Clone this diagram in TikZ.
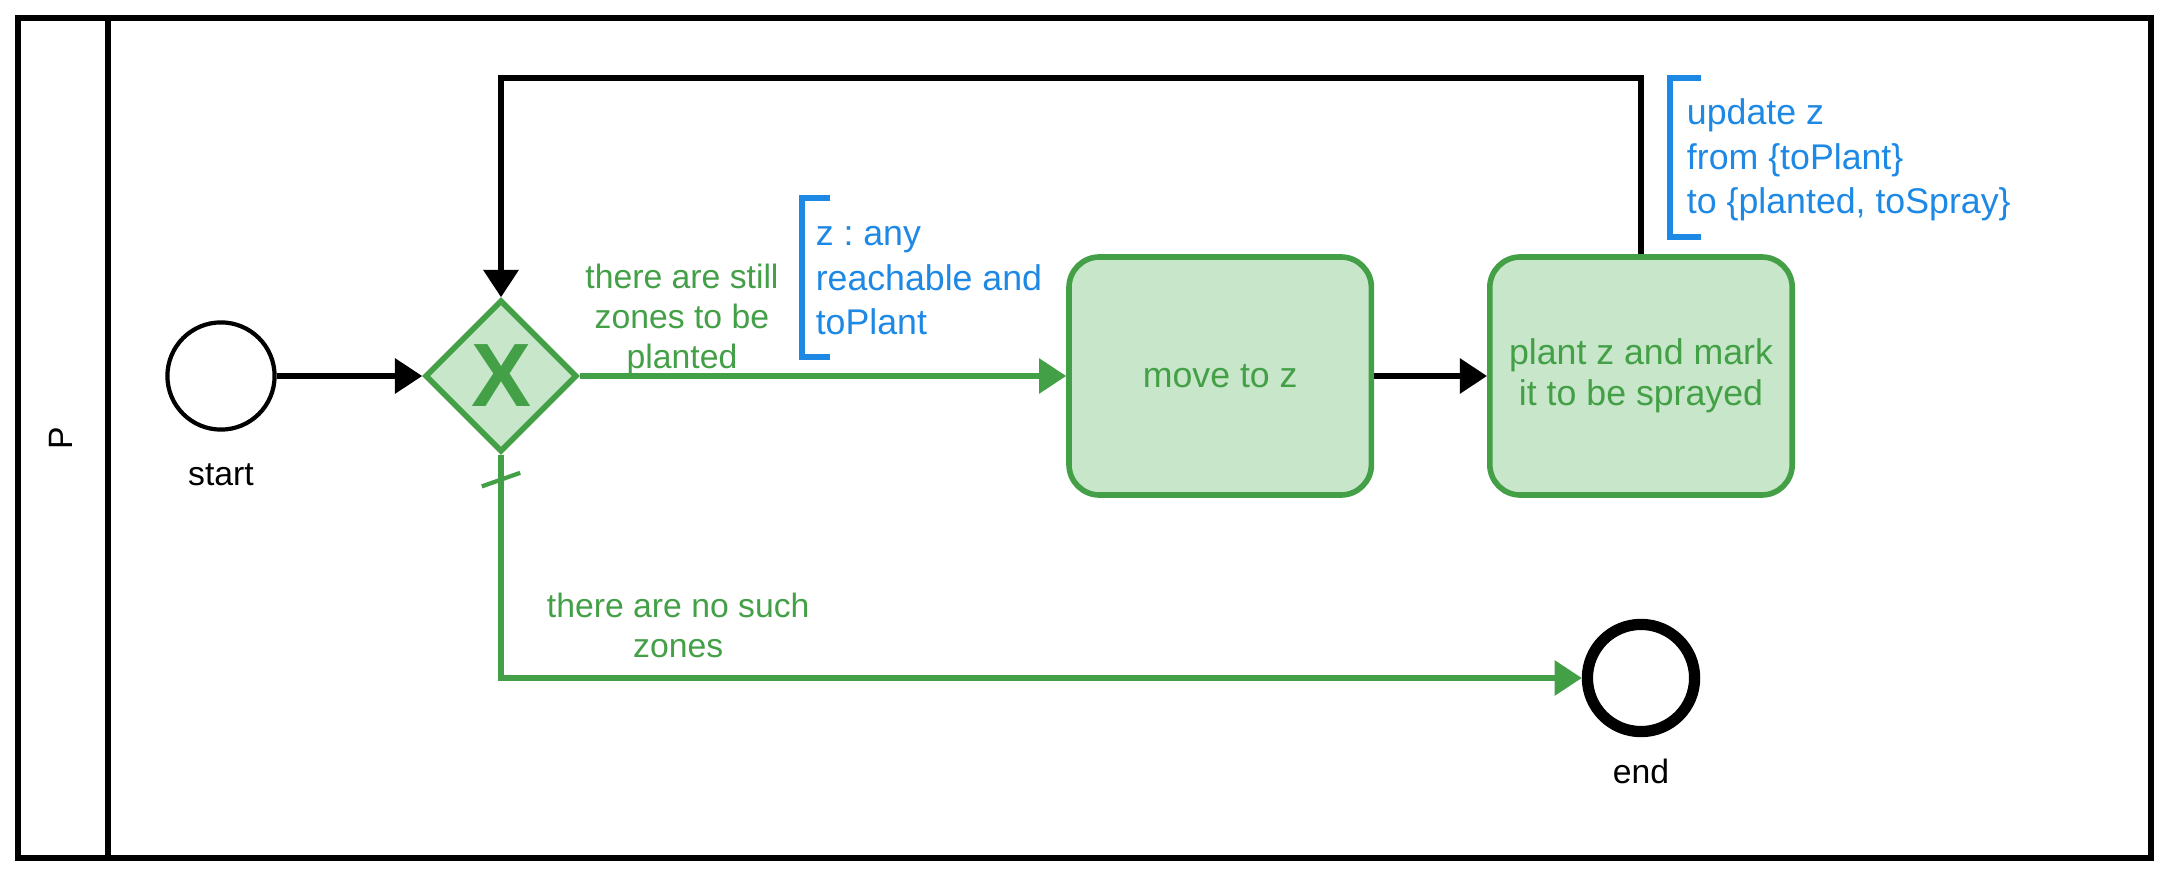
\documentclass[tikz,border=0pt]{standalone}
\usepackage{fontspec}
\setmainfont{Liberation Sans}
\usetikzlibrary{arrows.meta,shapes.geometric}
\frenchspacing

\definecolor{flowgreen}{RGB}{67,160,71}
\definecolor{taskfill}{RGB}{200,230,201}
\definecolor{noteblue}{RGB}{30,136,229}

\tikzstyle{event} = [circle, minimum size=1.34cm, inner sep=0, draw=black, line width=1.5pt]
\tikzstyle{endevent} = [event, line width=4pt]
\tikzstyle{gate} = [diamond, minimum size=1.9cm, inner sep=0, draw=flowgreen, fill=taskfill, line width=2pt, text=flowgreen, font=\fontsize{32}{32}\selectfont\bfseries]
\tikzstyle{task} = [rectangle, rounded corners=0.38cm, minimum width=3.78cm, minimum height=2.975cm, align=center, draw=flowgreen, fill=taskfill, line width=2pt, text=flowgreen, font=\fontsize{12.7}{14.7}\selectfont]
\tikzstyle{arrow} = [line width=1.8pt, -{Triangle[length=0.34cm,width=0.43cm]}]
\tikzstyle{greenarrow} = [arrow, color=flowgreen]
\tikzstyle{cond} = [text=flowgreen, align=center, inner sep=0, font=\fontsize{12}{14.2}\selectfont]
\tikzstyle{note} = [anchor=north west, text=noteblue, align=left, inner ysep=0, font=\fontsize{12.7}{15.8}\selectfont]
\tikzstyle{bracket} = [draw=noteblue, line width=2.1pt]
\tikzstyle{lane} = [draw=black, line width=2.1pt]
\tikzstyle{caption} = [font=\fontsize{12}{14}\selectfont]

\begin{document}
\begin{tikzpicture}
  \useasboundingbox (0,0) rectangle (27.1125,-10.95);

  % pool with its lane header
  \draw [lane] (0.225,-0.225) rectangle (26.8875,-10.725);
  \draw [lane] (1.35,-0.225) -- (1.35,-10.725);
  \node (lane name) [caption, rotate=90] at (0.76,-5.475) {P};

  \node (start) [event] at (2.7625,-4.70) {};
  \node (start label) [caption, below of=start, yshift=-0.235cm] {start};
  \node (gateway) [gate, right of=start, xshift=2.5cm] {X};
  \node (move) [task, right of=gateway, xshift=7.99cm] {move to z};
  \node (plant) [task, right of=move, xshift=4.26cm] {plant z and mark\\it to be sprayed};
  \node (end) [endevent, below of=plant, yshift=-2.775cm] {};
  \node (end label) [caption, below of=end, yshift=-0.165cm] {end};

  % annotations (text sits a little below the middle of its bracket)
  \node (note move) [note, minimum height=1.98cm, inner xsep=0.17cm] at (10.02,-2.52) {\strut z : any\\reachable and\\toPlant\strut};
  \node (note plant) [note, minimum height=1.975cm, inner xsep=0.2cm] at (20.88,-1.01) {\strut update z\\from \{toPlant\}\\to \{planted, toSpray\}\strut};
  \draw [bracket] ([shift={(0.36,0.05)}]note move.north west) -- ([yshift=0.05cm]note move.north west) -- ([yshift=0.05cm]note move.south west) -- ([shift={(0.36,0.05)}]note move.south west);
  \draw [bracket] ([shift={(0.38,0.035)}]note plant.north west) -- ([yshift=0.035cm]note plant.north west) -- ([yshift=0.035cm]note plant.south west) -- ([shift={(0.38,0.035)}]note plant.south west);

  \coordinate (loop top) at (0,-0.975);

  \draw [arrow] (start) -- (gateway);
  \draw [greenarrow] (gateway) -- node (yes label) [cond, pos=0.21, above, yshift=-0.02cm] {there are still\\zones to be\\planted} (move);
  \draw [arrow] (move) -- (plant);
  \draw [arrow] (plant.north) |- (loop top -| gateway.north) -- (gateway.north);
  \draw [greenarrow] (gateway.south) |- node (no label) [cond, pos=0.582, above, yshift=0.22cm] {there are no such\\zones} (end);
  % default flow marker
  \draw [flowgreen, line width=1.5pt] ([shift={(-0.24,-0.395)}]gateway.south) -- ([shift={(0.24,-0.225)}]gateway.south);
\end{tikzpicture}
\end{document}
